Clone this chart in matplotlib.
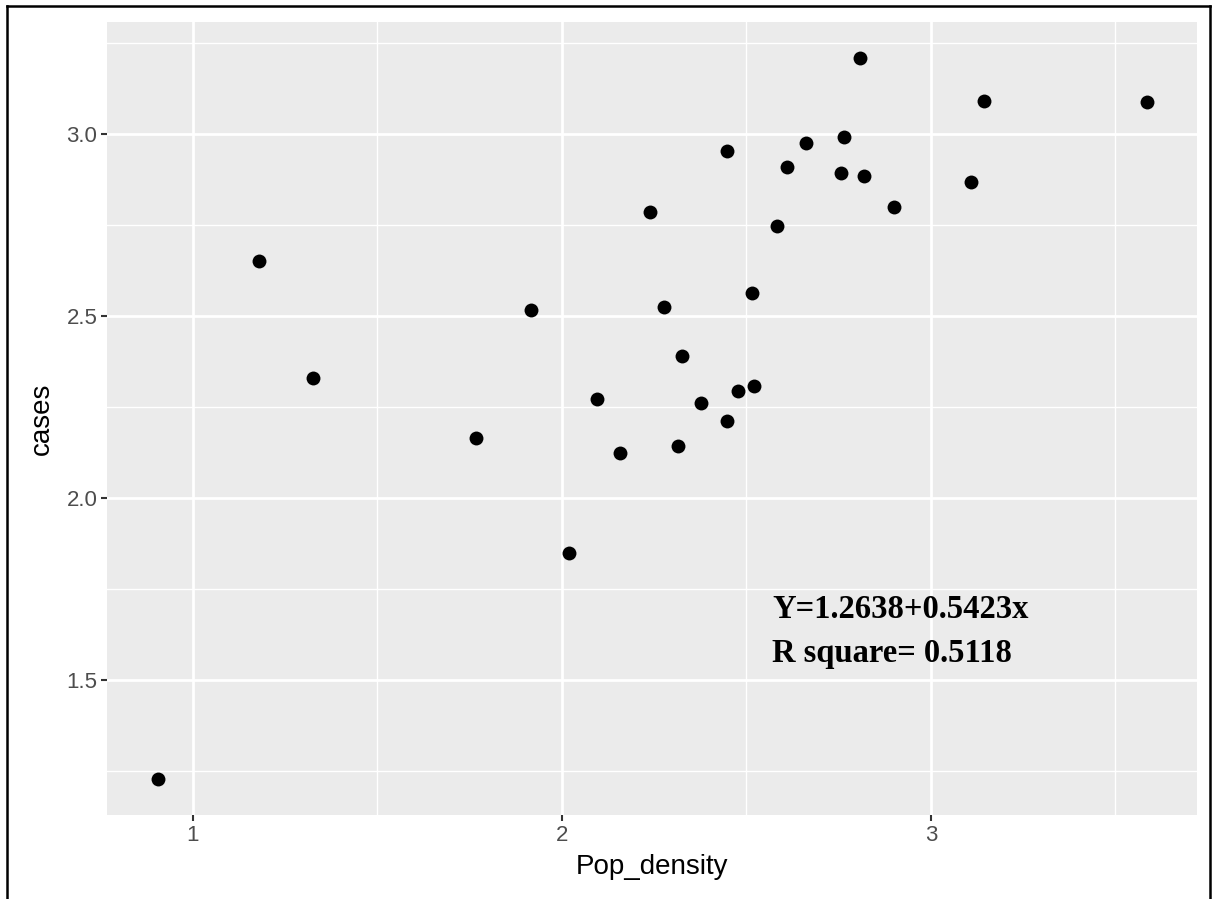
import numpy as np
import matplotlib.pyplot as plt
from matplotlib.ticker import MultipleLocator
from matplotlib.lines import Line2D

# data
pop_density = [0.905, 1.179, 1.325, 1.767, 1.916, 2.019, 2.095, 2.157, 2.238, 2.276,
               2.314, 2.325, 2.377, 2.447, 2.447, 2.477, 2.515, 2.520, 2.583, 2.610,
               2.661, 2.757, 2.764, 2.808, 2.818, 2.900, 3.108, 3.144, 3.585]
cases = [1.228, 2.651, 2.330, 2.165, 2.516, 1.849, 2.272, 2.124, 2.786, 2.525,
         2.143, 2.390, 2.261, 2.212, 2.953, 2.294, 2.563, 2.308, 2.747, 2.909,
         2.975, 2.893, 2.992, 3.209, 2.885, 2.799, 2.868, 3.091, 3.088]

x_ticks = [1, 2, 3]
y_ticks = [1.5, 2.0, 2.5, 3.0]
annot = ["Y=1.2638+0.5423x", "R square= 0.5118"]

fig = plt.figure(figsize=(12.13, 8.99), dpi=100)
ax = fig.add_axes([107/1213, 1 - 815/899, 1090/1213, 793/899])

ax.set_facecolor('#EBEBEB')
for s in ax.spines.values():
    s.set_visible(False)

ax.scatter(pop_density, cases, s=100, color='black', zorder=3, linewidths=0)

ax.set_xlim(0.767, 3.721)
ax.set_ylim(1.129, 3.308)
ax.set_xticks(x_ticks)
ax.set_xticklabels([str(t) for t in x_ticks])
ax.set_yticks(y_ticks)
ax.set_yticklabels(['%.1f' % t for t in y_ticks])
ax.yaxis.set_minor_locator(plt.FixedLocator([1.25, 1.75, 2.25, 2.75, 3.25]))
ax.xaxis.set_minor_locator(plt.FixedLocator([1.5, 2.5, 3.5]))

ax.grid(which='major', color='white', linewidth=2.0, zorder=0)
ax.grid(which='minor', color='white', linewidth=1.0, zorder=0)
ax.set_axisbelow(True)

ax.tick_params(which='major', length=4, width=1.5, color='#333333',
               labelsize=16, labelcolor='#4D4D4D', pad=3)
ax.tick_params(which='minor', length=0)
for lab in ax.get_xticklabels() + ax.get_yticklabels():
    lab.set_family('Liberation Sans')

ax.set_xlabel('Pop_density', fontsize=20, family='Liberation Sans', labelpad=6)
ax.set_ylabel('cases', fontsize=20, family='Liberation Sans', labelpad=8)

# equation text
ax.text(2.570, 1.670, annot[0], fontsize=23.5, fontweight='bold',
        family='Liberation Serif', va='baseline', ha='left')
ax.text(2.570, 1.549, annot[1], fontsize=23.5, fontweight='bold',
        family='Liberation Serif', va='baseline', ha='left')

# frame around the image
l, r, t = 7/1213, 1210/1213, 1 - 6/899
for xs, ys in [([l, l], [0, t]), ([l, r], [t, t]), ([r, r], [t, 0])]:
    fig.add_artist(Line2D(xs, ys, color='black', linewidth=1.8))

fig.savefig('out.png', dpi=100)
